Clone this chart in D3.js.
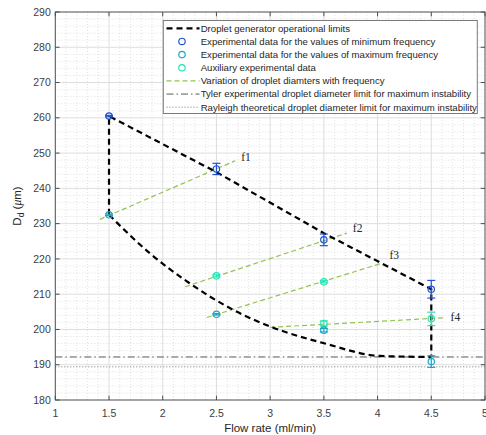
<!DOCTYPE html>
<html>
<head>
<meta charset="utf-8">
<script src="https://cdn.jsdelivr.net/npm/d3@7"></script>
<style>
  body { margin: 0; background: #fff; }
  svg { display: block; font-family: "Liberation Sans", Arial, sans-serif; }
</style>
</head>
<body>
<div id="plot"></div>
<script>
// measured data (flow rate in ml/min, droplet diameter in um)
const flowRates = [1.5, 2.5, 3.5, 4.5];
const minFreqD = [260.5, 245.5, 225.4, 211.4];
const minFreqErr = [0.2, 1.6, 1.65, 2.5];
const maxFreqD = [232.5, 204.3, 199.8, 190.9];
const maxFreqErr = [0.2, 0.2, 0.5, 1.65];
const auxFlow = [2.5, 3.5, 3.5, 4.5];
const auxD = [215.2, 213.5, 201.7, 203.0];
const auxErr = [0.3, 0.3, 0.7, 1.9];

// operational limits of the droplet generator
const upperLimitX = [1.5, 1.5, 2.5, 3.5, 4.5, 4.5];
const upperLimitY = [232.5, 260.5, 244.6, 227.3, 211.4, 192.2];
const lowerLimitX = [1.5, 1.88, 2.25, 2.66, 3.03, 3.5, 4.02, 4.5];
const lowerLimitY = [232.5, 221.6, 213.1, 205.5, 200.5, 196.1, 192.5, 192.2];

// frequency variation lines (start / end) and their labels
const freqLabels = ["f1", "f2", "f3", "f4"];
const freqX0 = [1.415, 2.208, 2.41, 3.0];
const freqY0 = [231.2, 212.1, 203.4, 200.6];
const freqX1 = [2.673, 3.713, 4.02, 4.61];
const freqY1 = [247.8, 227.3, 218.6, 203.3];
const freqLabelX = [2.73, 3.77, 4.11, 4.68];
const freqLabelY = [249.0, 228.9, 221.1, 203.6];

const tylerLimit = 192.2;
const rayleighLimit = 189.4;

const xTicks = [1, 1.5, 2, 2.5, 3, 3.5, 4, 4.5, 5];
const yTicks = [180, 190, 200, 210, 220, 230, 240, 250, 260, 270, 280, 290];

const legendLabels = [
  "Droplet generator operational limits",
  "Experimental data for the values of minimum frequency",
  "Experimental data for the values of maximum frequency",
  "Auxiliary experimental data",
  "Variation of droplet diamters with frequency",
  "Tyler experimental droplet diameter limit for maximum instability",
  "Rayleigh theoretical droplet diameter limit for maximum instability"
];

const width = 486;
const height = 435;
const pLeft = 55.3, pRight = 485, pTop = 12, pBottom = 400;

const colMin = "#1f53d1", colMax = "#1aa7c9", colAux = "#21e6b5";
const colGreen = "#92c353";

const x = d3.scaleLinear().domain([1, 5]).range([pLeft, pRight]);
const y = d3.scaleLinear().domain([180, 290]).range([pBottom, pTop]);

const svg = d3.select("#plot").append("svg")
  .attr("width", width)
  .attr("height", height);

svg.append("rect")
  .attr("x", pLeft).attr("y", pTop)
  .attr("width", pRight - pLeft).attr("height", pBottom - pTop)
  .attr("fill", "#fff");

// minor grid
const grid = svg.append("g");
grid.selectAll("line.minx")
  .data(d3.range(1, 5.001, 0.1).filter(v => Math.abs(v * 2 - Math.round(v * 2)) > 1e-6))
  .enter().append("line")
  .attr("x1", d => x(d)).attr("x2", d => x(d))
  .attr("y1", pTop).attr("y2", pBottom)
  .attr("stroke", "#d4d4d4").attr("stroke-width", 0.7)
  .attr("stroke-dasharray", "1,2");
grid.selectAll("line.miny")
  .data(d3.range(180, 290.001, 2).filter(v => v % 10 !== 0))
  .enter().append("line")
  .attr("x1", pLeft).attr("x2", pRight)
  .attr("y1", d => y(d)).attr("y2", d => y(d))
  .attr("stroke", "#d4d4d4").attr("stroke-width", 0.7)
  .attr("stroke-dasharray", "1,2");

// major grid
grid.selectAll("line.majx")
  .data(xTicks.slice(1, -1))
  .enter().append("line")
  .attr("x1", d => x(d)).attr("x2", d => x(d))
  .attr("y1", pTop).attr("y2", pBottom)
  .attr("stroke", "#dedede").attr("stroke-width", 1);
grid.selectAll("line.majy")
  .data(yTicks.slice(1, -1))
  .enter().append("line")
  .attr("x1", pLeft).attr("x2", pRight)
  .attr("y1", d => y(d)).attr("y2", d => y(d))
  .attr("stroke", "#dedede").attr("stroke-width", 1);

// reference lines
svg.append("line")
  .attr("x1", pLeft).attr("x2", pRight)
  .attr("y1", y(tylerLimit)).attr("y2", y(tylerLimit))
  .attr("stroke", "#5a5a5a").attr("stroke-width", 1)
  .attr("stroke-dasharray", "7,3,1.5,3");
svg.append("line")
  .attr("x1", pLeft).attr("x2", pRight)
  .attr("y1", y(rayleighLimit)).attr("y2", y(rayleighLimit))
  .attr("stroke", "#7a7a7a").attr("stroke-width", 1)
  .attr("stroke-dasharray", "1,2");

// frequency lines
const fLines = svg.append("g");
freqLabels.forEach((lab, i) => {
  fLines.append("line")
    .attr("x1", x(freqX0[i])).attr("y1", y(freqY0[i]))
    .attr("x2", x(freqX1[i])).attr("y2", y(freqY1[i]))
    .attr("stroke", colGreen).attr("stroke-width", 1.2)
    .attr("stroke-dasharray", "5,3");
  fLines.append("text")
    .attr("x", x(freqLabelX[i])).attr("y", y(freqLabelY[i]))
    .attr("dy", "0.35em")
    .style("font-family", "'Liberation Serif', 'Times New Roman', serif")
    .style("font-size", "11.5px")
    .attr("fill", "#262626")
    .text(lab);
});

// operational limits
const upperLine = d3.line().x(d => x(d[0])).y(d => y(d[1]));
svg.append("path")
  .attr("d", upperLine(upperLimitX.map((v, i) => [v, upperLimitY[i]])))
  .attr("fill", "none").attr("stroke", "#000").attr("stroke-width", 2.2)
  .attr("stroke-dasharray", "6,4");
const lowerLine = d3.line().x(d => x(d[0])).y(d => y(d[1])).curve(d3.curveMonotoneX);
svg.append("path")
  .attr("d", lowerLine(lowerLimitX.map((v, i) => [v, lowerLimitY[i]])))
  .attr("fill", "none").attr("stroke", "#000").attr("stroke-width", 2.2)
  .attr("stroke-dasharray", "6,4");

// error bar series
function drawSeries(xs, ys, errs, color) {
  const g = svg.append("g").attr("stroke", color).attr("fill", "none").attr("stroke-width", 1.2);
  xs.forEach((xv, i) => {
    const cx = x(xv);
    const yHi = y(ys[i] + errs[i]), yLo = y(ys[i] - errs[i]);
    g.append("line").attr("x1", cx).attr("x2", cx).attr("y1", yHi).attr("y2", yLo);
    g.append("line").attr("x1", cx - 4).attr("x2", cx + 4).attr("y1", yHi).attr("y2", yHi);
    g.append("line").attr("x1", cx - 4).attr("x2", cx + 4).attr("y1", yLo).attr("y2", yLo);
    g.append("circle").attr("cx", cx).attr("cy", y(ys[i])).attr("r", 3.2);
  });
}
drawSeries(auxFlow, auxD, auxErr, colAux);
drawSeries(flowRates, maxFreqD, maxFreqErr, colMax);
drawSeries(flowRates, minFreqD, minFreqErr, colMin);

// axes box and ticks
const axisCol = "#4d4d4d";
svg.append("rect")
  .attr("x", pLeft).attr("y", pTop)
  .attr("width", pRight - pLeft).attr("height", pBottom - pTop)
  .attr("fill", "none").attr("stroke", axisCol).attr("stroke-width", 1);

const tickLen = 4.3;
const ticks = svg.append("g").attr("stroke", axisCol).attr("stroke-width", 1);
xTicks.forEach(t => {
  ticks.append("line").attr("x1", x(t)).attr("x2", x(t)).attr("y1", pBottom).attr("y2", pBottom - tickLen);
  ticks.append("line").attr("x1", x(t)).attr("x2", x(t)).attr("y1", pTop).attr("y2", pTop + tickLen);
});
yTicks.forEach(t => {
  ticks.append("line").attr("x1", pLeft).attr("x2", pLeft + tickLen).attr("y1", y(t)).attr("y2", y(t));
  ticks.append("line").attr("x1", pRight).attr("x2", pRight - tickLen).attr("y1", y(t)).attr("y2", y(t));
});

const labCol = "#404040";
svg.append("g").selectAll("text")
  .data(xTicks).enter().append("text")
  .attr("x", d => x(d)).attr("y", pBottom + 16.5)
  .attr("text-anchor", "middle")
  .style("font-size", "10.5px").attr("fill", labCol)
  .text(d => d);
svg.append("g").selectAll("text")
  .data(yTicks).enter().append("text")
  .attr("x", pLeft - 4.5).attr("y", d => y(d))
  .attr("dy", "0.35em")
  .attr("text-anchor", "end")
  .style("font-size", "10.5px").attr("fill", labCol)
  .text(d => d);

svg.append("text")
  .attr("x", (pLeft + pRight) / 2).attr("y", 431.5)
  .attr("text-anchor", "middle")
  .style("font-size", "11.5px").attr("fill", "#262626")
  .text("Flow rate (ml/min)");

const yLab = svg.append("text")
  .attr("transform", `translate(21,${(pTop + pBottom) / 2}) rotate(-90)`)
  .attr("text-anchor", "middle")
  .style("font-size", "11.5px").attr("fill", "#262626");
yLab.append("tspan").text("D");
yLab.append("tspan").attr("dy", 3).style("font-size", "8.5px").text("d");
yLab.append("tspan").attr("dy", -3).text(" (");
yLab.append("tspan").style("font-family", "'Liberation Serif', serif").style("font-style", "italic").text("μ");
yLab.append("tspan").text("m)");

// legend
const lg = svg.append("g");
lg.append("rect")
  .attr("x", 163.3).attr("y", 20.5)
  .attr("width", 314).attr("height", 93)
  .attr("fill", "#fff").attr("stroke", "#7a7a7a").attr("stroke-width", 1);

const rowY = i => 28.3 + i * 13.15;
const sx0 = 166.5, sx1 = 199.5, tx = 200.7;

legendLabels.forEach((lab, i) => {
  lg.append("text")
    .attr("x", tx).attr("y", rowY(i)).attr("dy", "0.35em")
    .style("font-size", "9.6px").attr("fill", "#262626")
    .text(lab);
});
lg.append("line").attr("x1", sx0).attr("x2", sx1).attr("y1", rowY(0)).attr("y2", rowY(0))
  .attr("stroke", "#000").attr("stroke-width", 2.2).attr("stroke-dasharray", "6,4");
[colMin, colMax, colAux].forEach((c, k) => {
  lg.append("circle").attr("cx", (sx0 + sx1) / 2 - 1).attr("cy", rowY(k + 1)).attr("r", 3.2)
    .attr("fill", "none").attr("stroke", c).attr("stroke-width", 1.2);
});
lg.append("line").attr("x1", sx0).attr("x2", sx1).attr("y1", rowY(4)).attr("y2", rowY(4))
  .attr("stroke", colGreen).attr("stroke-width", 1.2).attr("stroke-dasharray", "5,3");
lg.append("line").attr("x1", sx0).attr("x2", sx1).attr("y1", rowY(5)).attr("y2", rowY(5))
  .attr("stroke", "#5a5a5a").attr("stroke-width", 1).attr("stroke-dasharray", "7,3,1.5,3");
lg.append("line").attr("x1", sx0).attr("x2", sx1).attr("y1", rowY(6)).attr("y2", rowY(6))
  .attr("stroke", "#7a7a7a").attr("stroke-width", 1).attr("stroke-dasharray", "1,2");
</script>
</body>
</html>
